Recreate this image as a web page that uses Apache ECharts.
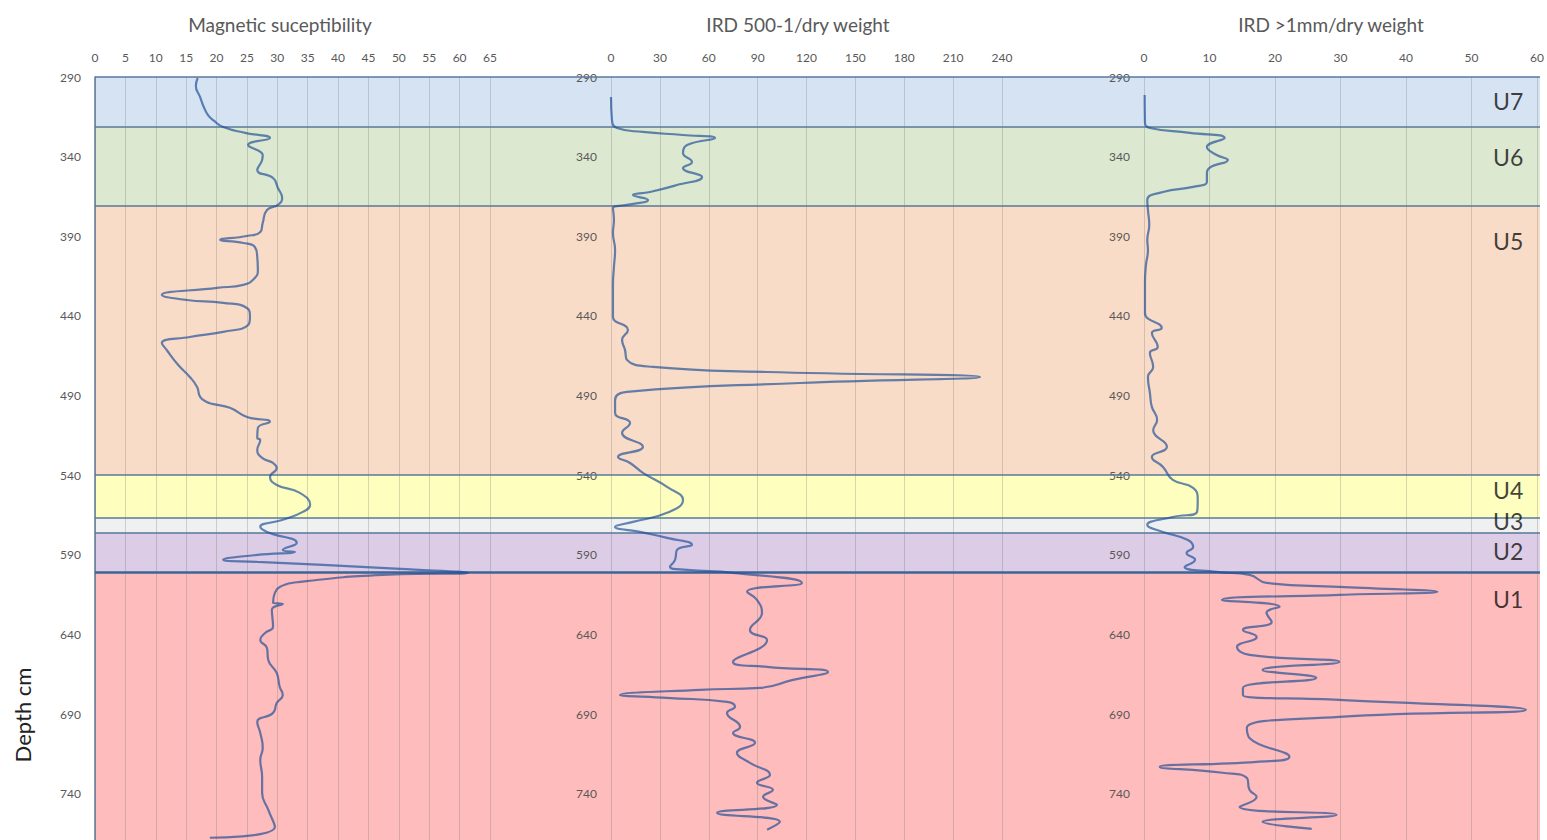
<!DOCTYPE html>
<html>
<head>
<meta charset="utf-8">
<script src="https://cdn.jsdelivr.net/npm/echarts@6/dist/echarts.min.js"></script>
<style>
html,body{margin:0;padding:0;background:#fff;}
#chart{width:1547px;height:840px;}
</style>
</head>
<body>
<div id="chart"></div>
<script>
// ---------- DATA ----------
const panelTitles = ['Magnetic suceptibility', 'IRD 500-1/dry weight', 'IRD >1mm/dry weight'];

const zoneNames  = ['U7', 'U6', 'U5', 'U4', 'U3', 'U2', 'U1'];
const zoneTop    = [290, 321, 371, 540, 567, 576, 601];
const zoneBottom = [321, 371, 540, 567, 576, 601, 769];
const zoneLabelDepth = [305, 340, 393, 549, 569, 587.5, 617.5];

const depthMin = 290, depthMax = 769, depthStep = 50;
const magAxis  = {min: 0, max: 65, step: 5};
const i500Axis = {min: 0, max: 240, step: 30};
const i1mmAxis = {min: 0, max: 60, step: 10};

const magDepth = [290.6,295.6,302.6,308.8,313.9,317.6,321.4,325.1,328.3,332.7,339.0,342.1,348.4,353.4,359.7,366.0,370.3,373.5,381.6,387.3,389.8,392.3,394.2,396.7,403.0,411.1,416.2,420.5,422.4,426.8,430.0,431.8,435.0,440.6,445.7,450.0,453.2,457.0,461.4,470.8,478.3,484.6,490.8,494.0,495.2,497.7,503.4,506.5,510.3,516.6,517.8,524.1,529.1,532.3,535.4,541.1,546.1,551.1,558.6,563.0,568.0,572.4,575.6,582.5,586.9,588.1,590.0,593.1,594.4,596.3,598.8,601.3,602.6,607.0,610.1,613.9,620.1,620.8,624.5,635.2,639.0,643.4,648.4,655.9,664.1,672.9,677.9,683.0,689.2,694.9,701.8,711.2,718.7,729.3,739.4,750.0,760.7,767.6];
const magValue = [16.9,16.6,17.3,17.9,18.6,19.6,21.1,24.7,28.8,25.2,27.6,27.5,26.7,29.3,30.1,30.8,30.1,28.3,27.6,27.2,25.0,20.6,24.4,26.3,26.7,26.8,26.3,24.4,20.1,11.0,15.1,21.1,25.0,25.5,25.2,21.1,15.6,11.0,11.8,13.7,15.6,16.8,17.3,18.4,19.3,22.2,25.0,28.8,26.8,26.7,27.2,26.7,27.5,29.3,29.9,28.8,29.9,33.7,35.4,34.2,30.9,27.2,28.3,33.2,30.9,32.9,26.7,21.1,26.7,37.5,50.2,61.4,47.4,33.7,30.4,29.6,29.3,30.9,29.1,29.3,28.0,27.2,28.3,28.5,29.9,30.4,30.9,29.9,29.3,26.7,27.2,27.6,27.2,27.5,27.5,28.5,29.6,18.9];

const i500Depth = [302.6,317.0,322.0,324.5,326.4,328.3,332.7,337.7,343.3,347.1,352.8,357.8,362.2,364.1,367.2,370.3,372.2,379.8,387.9,398.6,409.2,420.5,430.0,440.6,448.8,455.1,461.3,467.6,472.0,475.2,478.3,482.1,487.7,492.7,500.9,507.2,513.4,522.2,528.5,532.3,538.5,547.3,555.5,563.6,569.3,572.4,575.6,579.3,583.7,586.9,593.1,597.5,599.4,601.3,607.6,613.2,618.3,626.4,637.1,643.4,657.2,660.3,663.5,668.5,673.5,674.7,677.9,679.8,682.3,685.4,689.2,698.0,701.7,708.0,714.3,720.6,728.1,733.1,737.5,741.9,746.9,751.9,757.6,762.6];
const i500Value = [0,0.6,3.7,19.6,44.2,63.8,46.7,44.2,49.7,44.2,55.9,40.5,23.9,13.5,22.7,9.8,1.2,1.8,1.2,2.5,1.8,1.2,1.2,1.2,10.4,6.8,8.6,9.8,25.8,95.8,226.5,116,9.8,2.5,2.5,11.7,6.8,19.6,4.3,11.7,19.6,34.4,44.2,34.4,13.5,2.5,17.8,34.4,49.7,40.5,39.3,36.2,46.7,74.9,117.2,83.5,89.6,92.7,85.3,95.8,74.9,95.8,133.2,111.7,91.5,54.6,5.5,34.4,71.2,76.1,71.2,79.2,74.9,88.4,77.3,85.3,97.6,89.6,99.4,93.3,101.9,65.1,103.7,95.8];

const i1mmDepth = [301.3,318.9,322.0,325.1,328.3,333.9,339.0,342.1,347.1,351.5,355.9,359.0,362.2,367.2,373.5,382.9,392.3,398.6,408.0,419.3,438.1,447.5,450.7,459.5,463.2,472.0,478.3,488.3,497.1,505.3,511.6,522.2,528.5,534.8,542.9,548.0,555.5,563.0,566.2,571.2,575.6,580.6,585.0,588.8,593.1,597.5,600.7,602.6,607.6,610.1,613.2,615.1,618.3,622.6,626.4,632.1,637.1,641.5,647.8,652.8,657.2,662.2,667.2,673.5,677.9,681.0,687.3,691.7,698.6,704.9,716.8,719.9,723.1,726.8,730.0,737.5,741.9,748.2,753.2,757.6,762.0];
const i1mmValue = [0.1,0.15,0.9,7.0,12.3,9.6,11.1,12.8,10.0,9.6,9.6,7.5,2.9,0.5,0.6,0.8,0.5,0.6,0.3,0.15,0.15,2.7,1.2,2.1,0.9,1.4,0.6,0.9,1.2,2.0,1.4,3.5,1.2,2.9,4.4,7.5,8.2,8.1,4.4,0.5,2.9,6.7,7.5,6.5,7.8,6.2,11.1,16.1,18.7,29.8,44.8,29.8,11.9,20.7,18.7,19.5,15.1,17.2,14.2,16.1,29.8,18.1,26.3,15.1,15.1,29.8,58.3,29.8,15.7,16.1,22.2,17.2,2.4,12.0,15.7,16.1,17.2,14.6,29.4,18.1,25.6];

// ---------- STYLES ----------
const zoneColors = ['#d5e3f3', '#dce8d0', '#f9dcc8', '#fefebf', '#eff0f0', '#dccce5', '#ffbcbc'];
const FONT = 'Lato';
const LABEL_COLOR = '#595959';
const LINE_COLOR = 'rgba(30,78,150,0.68)';
const BORDER_COLOR = '#58789a';

const pair = (xs, ys) => xs.map((d, i) => [ys[i], d]);

const chart = echarts.init(document.getElementById('chart'), null, {renderer: 'svg'});

const TOP = 77, BOTTOM = 0;
const panelGrids = [
  {left: 95,   width: 395},
  {left: 611,  width: 391},
  {left: 1144, width: 394}
];
const panelAxes = [magAxis, i500Axis, i1mmAxis];

const grid = [{left: 95, right: 7, top: TOP, bottom: BOTTOM}]
  .concat(panelGrids.map(g => ({left: g.left, width: g.width, top: TOP, bottom: BOTTOM})));

const xAxis = [{gridIndex: 0, type: 'value', min: 0, max: 1, show: false}]
  .concat(panelAxes.map((a, i) => ({
    gridIndex: i + 1, type: 'value', position: 'top', z: 1,
    min: a.min, max: a.max, interval: a.step,
    axisLine: {show: false}, axisTick: {show: false},
    axisLabel: {color: LABEL_COLOR, fontSize: 12, fontFamily: FONT, margin: 14},
    splitLine: {show: true, lineStyle: {color: 'rgba(110,110,110,0.28)', width: 1}}
  })));

const yAxis = [{
  gridIndex: 0, type: 'value', inverse: true, min: depthMin, max: depthMax,
  axisLine: {show: true, lineStyle: {color: BORDER_COLOR, width: 1.5}},
  axisTick: {show: false}, axisLabel: {show: false}, splitLine: {show: false}
}].concat(panelAxes.map((a, i) => ({
  gridIndex: i + 1, type: 'value', inverse: true, z: 1,
  min: depthMin, max: depthMax, interval: depthStep,
  axisLine: {show: false}, axisTick: {show: false},
  axisLabel: {color: LABEL_COLOR, fontSize: 12, fontFamily: FONT, margin: 14, showMaxLabel: false},
  splitLine: {show: false}
})));

const boundaryDepths = [depthMin].concat(zoneTop.slice(1));

const series = [
  {
    type: 'line', xAxisIndex: 0, yAxisIndex: 0, data: [], z: -5, silent: true,
    markArea: {
      silent: true, z: -5,
      data: zoneNames.map((n, i) => [
        {yAxis: zoneTop[i], itemStyle: {color: zoneColors[i]}},
        {yAxis: zoneBottom[i]}
      ])
    }
  },
  {
    type: 'line', xAxisIndex: 0, yAxisIndex: 0, data: [], z: 4, silent: true,
    markLine: {
      silent: true, symbol: ['none', 'none'], label: {show: false}, z: 4,
      lineStyle: {color: BORDER_COLOR, width: 1.5, type: 'solid'},
      data: boundaryDepths.map(d => d === 601
        ? {yAxis: d, lineStyle: {color: '#3c6597', width: 2.5, type: 'solid'}}
        : {yAxis: d})
    }
  },
  {
    type: 'scatter', xAxisIndex: 0, yAxisIndex: 0, z: 6, silent: true,
    symbolSize: 0,
    data: zoneNames.map((n, i) => [0.978, zoneLabelDepth[i], n]),
    label: {
      show: true, position: 'inside', formatter: p => p.value[2],
      color: '#111', fontSize: 23, fontFamily: FONT
    }
  }
];

const curves = [pair(magDepth, magValue), pair(i500Depth, i500Value), pair(i1mmDepth, i1mmValue)];
curves.forEach((c, i) => {
  series.push({
    type: 'line', xAxisIndex: i + 1, yAxisIndex: i + 1, data: c,
    smooth: 0.5, showSymbol: false, symbol: 'none', z: 5,
    lineStyle: {color: LINE_COLOR, width: 2.2}
  });
});

const titleCenters = [280, 798, 1331];
const graphic = panelTitles.map((t, i) => ({
  type: 'text', x: titleCenters[i], y: 24,
  style: {text: t, textAlign: 'center', textVerticalAlign: 'middle',
          fontSize: 19, fontFamily: FONT, fill: LABEL_COLOR}
})).concat([{
  type: 'text', x: 22, y: 715, rotation: Math.PI / 2,
  style: {text: 'Depth cm', textAlign: 'center', textVerticalAlign: 'middle',
          fontSize: 22, fontFamily: FONT, fill: '#222'}
}]);

chart.setOption({
  animation: false,
  backgroundColor: '#ffffff',
  grid, xAxis, yAxis, series, graphic
});
</script>
</body>
</html>
